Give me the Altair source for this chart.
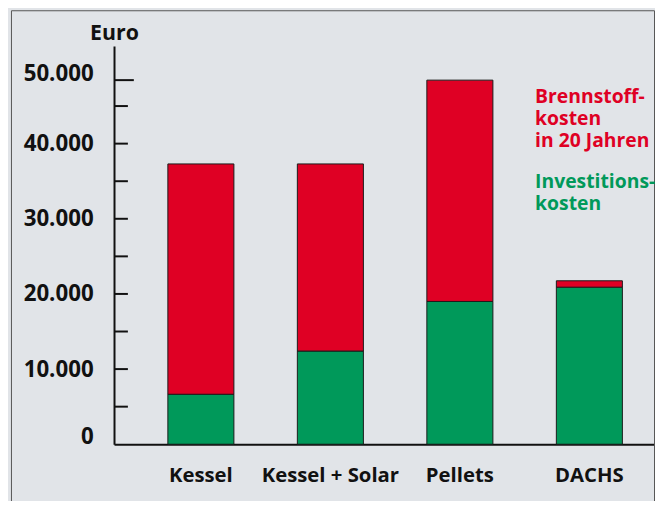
import altair as alt
import pandas as pd

categories = ["Kessel", "Kessel + Solar", "Pellets", "DACHS"]
investition = [6650, 12400, 19000, 20900]
brennstoff = [30650, 24900, 29450, 850]
series_names = ["Investitionskosten", "Brennstoffkosten"]
label_values = list(range(0, 50001, 5000))
tick_values = list(range(5000, 45001, 5000))
legend_red = ["Brennstoff-", "kosten", "in 20 Jahren"]
legend_green = ["Investitions-", "kosten"]

RED = "#DF0024"
GREEN = "#00995A"
BG = "#E1E4E8"
FONT = "Open Sans"
INK = "#111111"

rows = []
for c, i, b in zip(categories, investition, brennstoff):
    rows.append({"cat": c, "typ": series_names[0], "wert": i, "ord": 0})
    rows.append({"cat": c, "typ": series_names[1], "wert": b, "ord": 1})
df = pd.DataFrame(rows)

pellets_total = investition[2] + brennstoff[2]

bars = alt.Chart(df).mark_bar(stroke="#1a1a1a", strokeWidth=1).encode(
    x=alt.X("cat:N", sort=categories,
            scale=alt.Scale(paddingInner=0.49, paddingOuter=0.33, align=0.63),
            axis=alt.Axis(title=None, labelAngle=0, ticks=False, labelPadding=22,
                          labelFont=FONT, labelFontSize=20.5, labelFontWeight="bold",
                          labelColor=INK, domainColor=INK, domainWidth=2)),
    y=alt.Y("wert:Q", stack="zero",
            scale=alt.Scale(domain=[0, 53000], nice=False),
            axis=alt.Axis(values=label_values, title="Euro", titleAngle=0, titleX=0, titleY=-12,
                          titleAlign="center", titleBaseline="middle", titleFont=FONT,
                          titleFontSize=21.5, titleFontWeight="bold", titleColor=INK,
                          labelExpr="datum.value % 10000 == 0 ? replace(format(datum.value, ','), ',', '.') : ''",
                          labelFont=FONT, labelFontSize=22.5, labelFontWeight="bold", labelColor=INK,
                          labelPadding=21, ticks=False,
                          labelOffset={"condition": {"test": "datum.value == 0 || datum.value == 50000",
                                                     "expr": "datum.value == 0 ? -8 : 5"}, "value": 0},
                          domainColor=INK, domainWidth=2, grid=False)),
    color=alt.Color("typ:N", scale=alt.Scale(domain=series_names, range=[GREEN, RED]), legend=None),
    order=alt.Order("ord:Q"),
)

ticks = alt.Chart(pd.DataFrame({"v": tick_values})).mark_rule(
    color=INK, strokeWidth=2
).encode(y="v:Q", x=alt.value(0), x2=alt.value(14))

long_tick = alt.Chart(pd.DataFrame({"total": [pellets_total]})).mark_rule(
    color=INK, strokeWidth=2
).encode(y="total:Q", x=alt.value(0), x2=alt.value(20))

leg_red = alt.Chart(pd.DataFrame({"t": ["\n".join(legend_red)]})).mark_text(
    align="left", baseline="alphabetic", lineBreak="\n", lineHeight=22,
    font=FONT, fontSize=19.5, fontWeight="bold", color=RED
).encode(text="t:N", x=alt.value(425), y=alt.value(57.7))

leg_green = alt.Chart(pd.DataFrame({"t": ["\n".join(legend_green)]})).mark_text(
    align="left", baseline="alphabetic", lineBreak="\n", lineHeight=22,
    font=FONT, fontSize=19.5, fontWeight="bold", color=GREEN
).encode(text="t:N", x=alt.value(425), y=alt.value(143.7))

frame = alt.Chart(pd.DataFrame({"f": [0]})).mark_rect(
    fill=None, stroke="#555", strokeWidth=1
).encode(x=alt.value(-103.5), x2=alt.value(545.5), y=alt.value(-35.5), y2=alt.value(470))

chart = alt.layer(frame, bars, ticks, long_tick, leg_red, leg_green).properties(
    width=545, height=402,
    autosize=alt.AutoSizeParams(type="none"),
    padding={"left": 107, "top": 36, "right": 1, "bottom": 55},
    background=BG,
).configure_view(stroke=None)

chart.save("out.html", embed_options={"renderer": "svg", "actions": False})
